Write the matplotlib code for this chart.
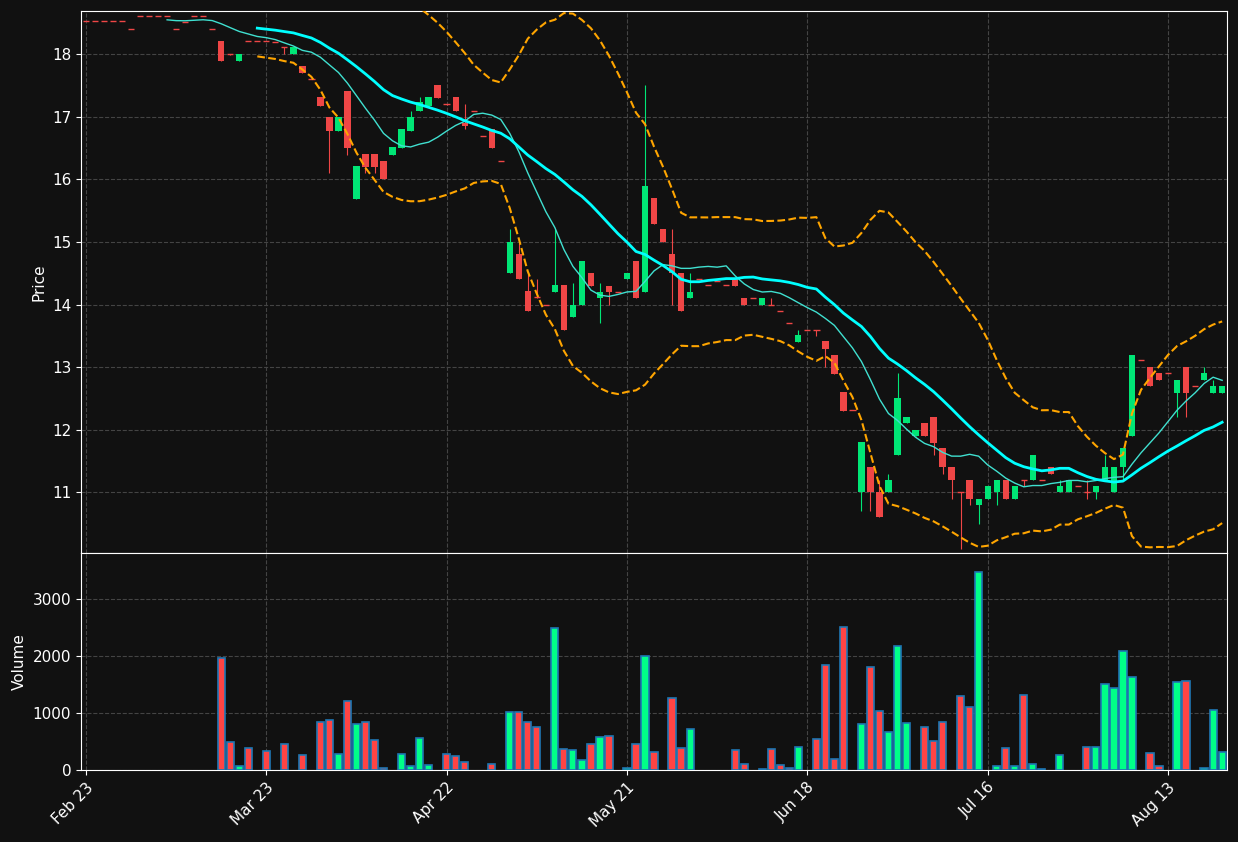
import matplotlib
matplotlib.use("Agg")
import matplotlib.pyplot as plt
import numpy as np
import pandas as pd

# OHLC per trading day (index 0..126)
opens = [18.53]*5 + [18.40] + [18.61]*4 + [18.40, 18.51, 18.61, 18.61, 18.40,
    18.21, 18.0, 17.89, 18.21, 18.21, 18.21, 18.2, 18.11, 18.0, 17.81, 17.6, 17.31, 17.0, 16.78, 17.41,
    15.68, 16.4, 16.4, 16.3, 16.39, 16.5, 16.78, 17.09, 17.18, 17.5, 17.2, 17.31, 16.9, 17.1, 16.7,
    16.8, 16.3, 14.5, 14.8, 14.21, 14.12, 14.0, 14.2, 14.31, 13.8, 14.0, 14.5, 14.1, 14.3, 14.2,
    14.4, 14.7, 14.2, 15.7, 15.2, 14.8, 14.5, 14.1, 14.4, 14.31, 14.38, 14.31, 14.4, 14.1, 14.1,
    14.0, 14.0, 13.9, 13.7, 13.4, 13.6, 13.6, 13.41, 13.2, 12.6, 12.31, 11.0, 11.4, 11.0, 11.0,
    11.6, 12.1, 11.9, 12.1, 12.2, 11.7, 11.4, 11.0, 11.2, 10.8, 10.9, 11.0, 11.2, 10.9, 11.2,
    11.2, 11.2, 11.4, 11.0, 11.0, 11.1, 11.0, 11.0, 11.2, 11.0, 11.4, 11.9, 13.11, 13.0, 12.9,
    12.9, 12.58, 13.0, 12.7, 12.8, 12.58, 12.58]
closes = [18.53]*5 + [18.40] + [18.61]*4 + [18.40, 18.51, 18.61, 18.61, 18.40,
    17.89, 17.99, 18.0, 18.21, 18.21, 18.21, 18.2, 18.09, 18.11, 17.70, 17.6, 17.18, 16.78, 17.0, 16.5,
    16.21, 16.19, 16.19, 16.0, 16.51, 16.8, 17.0, 17.23, 17.31, 17.3, 17.19, 17.09, 16.85, 17.1, 16.7,
    16.5, 16.3, 15.0, 14.4, 13.89, 14.1, 14.0, 14.31, 13.6, 14.0, 14.7, 14.3, 14.2, 14.2, 14.2,
    14.5, 14.1, 15.9, 15.28, 15.0, 14.5, 13.9, 14.2, 14.4, 14.31, 14.38, 14.31, 14.3, 14.0, 14.1,
    14.1, 13.99, 13.9, 13.7, 13.51, 13.6, 13.59, 13.29, 12.89, 12.3, 12.31, 11.8, 11.0, 10.6, 11.2,
    12.5, 12.2, 12.0, 11.9, 11.78, 11.4, 11.2, 10.99, 10.9, 10.9, 11.1, 11.2, 10.9, 11.1, 11.19,
    11.6, 11.2, 11.3, 11.1, 11.2, 11.1, 10.99, 11.1, 11.4, 11.4, 11.7, 13.2, 13.11, 12.7, 12.8,
    12.9, 12.8, 12.58, 12.7, 12.9, 12.7, 12.7]
highs = [max(o, c) for o, c in zip(opens, closes)]
lows = [min(o, c) for o, c in zip(opens, closes)]
high_over = {22: 18.11, 27: 17.0, 36: 17.1, 37: 17.31, 40: 17.2, 42: 17.2, 47: 15.2, 48: 14.98,
             49: 14.5, 50: 14.4, 52: 15.2, 54: 14.35, 57: 14.35, 62: 17.5, 65: 15.2, 67: 14.5,
             76: 14.1, 79: 13.6, 88: 11.2, 89: 11.3, 90: 12.9, 97: 11.0, 104: 11.2, 108: 11.2,
             111: 11.2, 113: 11.6, 124: 13.0, 125: 12.8}
low_over = {22: 18.0, 27: 16.1, 29: 16.39, 31: 16.1, 32: 16.1, 42: 16.8, 57: 13.7, 58: 14.0,
            65: 14.0, 76: 13.99, 81: 13.49, 82: 13.0, 86: 10.7, 87: 10.7, 94: 11.6, 95: 11.3,
            96: 10.9, 97: 10.1, 98: 10.8, 99: 10.5, 101: 10.8, 104: 11.1, 111: 10.9, 112: 10.9,
            115: 11.2, 121: 12.2, 122: 12.2}
for k, v in high_over.items():
    highs[k] = v
for k, v in low_over.items():
    lows[k] = v

volume_vals = {15: 1960, 16: 490, 17: 70, 18: 390, 20: 330, 22: 460, 24: 260, 26: 840, 27: 880,
    28: 280, 29: 1210, 30: 800, 31: 840, 32: 520, 33: 40, 35: 280, 36: 70, 37: 560, 38: 90,
    40: 280, 41: 250, 42: 140, 45: 100, 47: 1010, 48: 1010, 49: 840, 50: 750, 52: 2490,
    53: 370, 54: 350, 55: 170, 56: 450, 57: 580, 58: 600, 60: 30, 61: 450, 62: 2000, 63: 310,
    65: 1260, 66: 380, 67: 720, 72: 350, 73: 100, 75: 20, 76: 370, 77: 90, 78: 30, 79: 400,
    81: 540, 82: 1840, 83: 190, 84: 2500, 86: 800, 87: 1800, 88: 1030, 89: 660, 90: 2170,
    91: 820, 93: 760, 94: 500, 95: 840, 97: 1290, 98: 1100, 99: 3470, 101: 70, 102: 380,
    103: 70, 104: 1310, 105: 100, 106: 20, 108: 270, 111: 400, 112: 400, 113: 1500, 114: 1430,
    115: 2080, 116: 1630, 118: 300, 119: 70, 121: 1550, 122: 1570, 124: 30, 125: 1050, 126: 310}
volumes = [volume_vals.get(i, 0) for i in range(len(opens))]

tick_pos = [0, 20, 40, 60, 80, 100, 120]
tick_labels = ["Feb 23", "Mar 23", "Apr 22", "May 21", "Jun 18", "Jul 16", "Aug 13"]

BG = "#111111"
UP_C, DN_C = "#00e676", "#ef4646"
VUP, VDN = "#00ff88", "#ff4444"

close_s = pd.Series(closes)
ma10 = close_s.rolling(10).mean()
ma20 = close_s.rolling(20).mean()
std20 = close_s.rolling(20).std(ddof=0)
upper = ma20 + 2 * std20
lower = ma20 - 2 * std20

fig = plt.figure(figsize=(12.38, 8.42), dpi=100, facecolor=BG)
ax = fig.add_axes([81/1238, 1-553/842, 1146/1238, 542/842], facecolor=BG)
axv = fig.add_axes([81/1238, 1-770/842, 1146/1238, 217/842], facecolor=BG, sharex=ax)

x = np.arange(len(opens))
for i in x:
    o, c, h, l = opens[i], closes[i], highs[i], lows[i]
    col = UP_C if c > o else DN_C
    ax.vlines(i, l, h, color=col, linewidth=0.8, zorder=2)
    body = abs(c - o)
    if body < 0.02:
        ax.hlines(o, i - 0.35, i + 0.35, color=col, linewidth=1, zorder=3)
    else:
        ax.bar(i, body, bottom=min(o, c), width=0.7, color=col, zorder=3)

ax.plot(x, ma10, color="#40e0d0", linewidth=1, zorder=4)
ax.plot(x, ma20, color="#00ffff", linewidth=2, zorder=4)
ax.plot(x, upper, color="#ffa500", linewidth=1.5, linestyle="--", zorder=4)
ax.plot(x, lower, color="#ffa500", linewidth=1.5, linestyle="--", zorder=4)

nz = [i for i in x if volumes[i] > 0]
vcols = [VUP if closes[i] > opens[i] else VDN for i in nz]
axv.bar(nz, [volumes[i] for i in nz], width=0.8, color=vcols, edgecolor="#1f77b4",
        linewidth=1.2, zorder=3)

ax.set_xlim(-0.55, 126.54)
ax.set_ylim(10.03, 18.69)
ax.set_yticks(range(11, 19))
axv.set_ylim(0, 3807)
axv.set_yticks([0, 1000, 2000, 3000])
axv.set_xticks(tick_pos)
axv.set_xticklabels(tick_labels, rotation=45, ha="right", rotation_mode="anchor")
plt.setp(ax.get_xticklabels(), visible=False)

ax.set_ylabel("Price", color="white", fontsize=11)
axv.set_ylabel("Volume", color="white", fontsize=11)
for a in (ax, axv):
    a.grid(True, color="#444444", linestyle="--", linewidth=0.8)
    a.set_axisbelow(True)
    a.tick_params(colors="white", labelsize=11)
    for s in a.spines.values():
        s.set_color("white")

fig.savefig("out.png", dpi=100, facecolor=BG)
